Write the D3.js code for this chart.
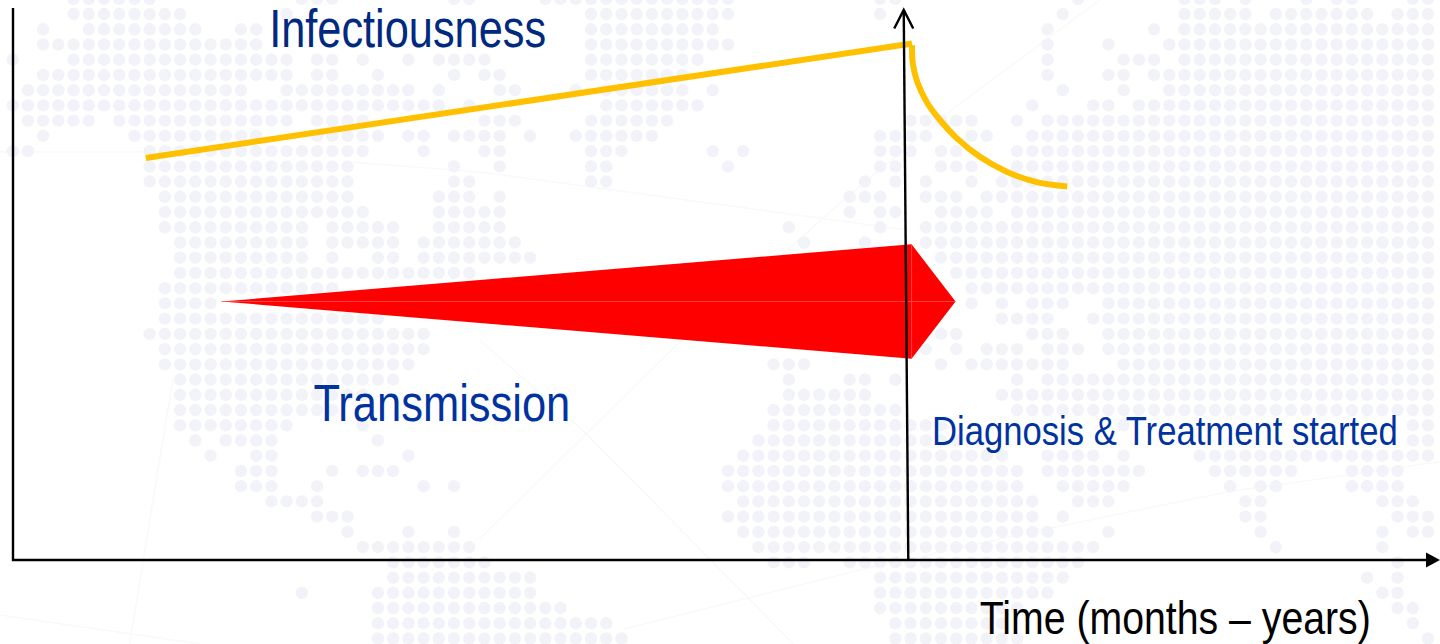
<!DOCTYPE html>
<html>
<head>
<meta charset="utf-8">
<title>Infectiousness and transmission over time</title>
<script src="https://cdn.jsdelivr.net/npm/d3@7/dist/d3.min.js"></script>
<style>
  html, body { margin: 0; padding: 0; background: #fff; overflow: hidden; }
  svg { display: block; }
  text { font-family: "Liberation Sans", Arial, sans-serif; }
</style>
</head>
<body>
<svg id="chart" width="1440" height="644"></svg>
<script>
// Infectiousness over time (percent of axis height): rising until treatment, then decaying
const riseTime = [9.3, 63.0];
const riseLevel = [73.1, 93.9];
const decayTime = [63.0, 63.05, 63.37, 64.07, 64.96, 66.13, 67.76, 69.63, 71.74, 73.88];
const decayLevel = [93.6, 90.4, 86.9, 83.1, 80.0, 76.7, 73.3, 70.6, 68.7, 67.9];

// Transmission wedge: centre line with upper and lower edges at each time
const wedgeTime = [14.6, 62.97, 66.05];
const wedgeUpper = [47.0, 57.4, 47.0];
const wedgeLower = [47.0, 36.6, 47.0];
const wedgeCentre = 47.0;

// Moment of diagnosis: the marker leans slightly from bottom to top
const diagnosisTime = [62.74, 62.42];
const diagnosisLevel = [0, 100];

// Labels
const labelTexts = ["Infectiousness", "Transmission", "Diagnosis & Treatment started", "Time (months \u2013 years)"];
const labelTime = [17.95, 21.05, 64.4, 67.75];
const labelLevel = [93.2, 25.3, 21.0, -13.4];
const labelWidths = [277, 257, 466, 391];
const labelSizes = [53, 52, 41, 46];
const labelColors = ["#00297f", "#0033a0", "#0033a0", "#000000"];

// World map backdrop: runs of filled grid columns for each grid row
const mapRows = [
  "4-9 19-21 29-30 35-47 57-58 70 77-79 81 85 87-88 92-93",
  "4-11 18 38-47 57 69 77-81 83-89 91-93",
  "2 5-12 15-16 38-46 68 75 77-93",
  "2-16 38-47 68 72 76-93",
  "0 4-18 20-21 23 26 28-31 38-45 68 73-75 77-93",
  "2-18 20-21 24 29 31-32 38-44 68 72-73 75-93",
  "1-15 18-26 28 32-33 37 39-44 46 69 73 76-93",
  "0-28 30 39-45 67 71-72 74-93",
  "1-5 7-18 20-23 31-33 38-43 59-63 66 68-93",
  "2 8-16 20-24 26-27 29-32 34 37-42 57-60 63-64 67-93",
  "0-1 9-23 27 31-32 38-40 46 48 57-59 61-62 66-93",
  "9-22 29 32 38-39 47 57-58 61-63 66-93",
  "9-22 29-30 38-39 56 58 60 63 65-93",
  "10-22 28-30 32 55-57 60-62 64-93",
  "10-23 28-32 55 57-58 61-64 66-93",
  "10-19 21-25 28-32 51 57 60-93",
  "11-19 21-25 27-33 52 56 60-93",
  "11-19 21 24-25 27-34 61-93",
  "11-30 62-93",
  "10-21 63-93",
  "10-13 63 65 67-69 72-93",
  "10-24 65-68 71-93",
  "9-27 61-62 67-69 72-93",
  "10-27 60 62 64-66 68-70 72-93",
  "10-26 50-52 61 63-69 73-93",
  "11-25 51 55-56 58 66 68-93",
  "11-23 51-56 65-93",
  "11-21 50-58 66-93",
  "11-18 23 50-61 73 92-93",
  "12 14-17 24 49-62 92-93",
  "13 16-17 26 48-65 68-71 73 78-93",
  "15-17 21 23-25 47-66 68-74 79-84 88-91",
  "15-17 20 27 29 47-66 69-73 80 82-83 88-91",
  "17-20 48-67 70-72 81-82 90-92",
  "20-22 47-67 69 81-82 91-93",
  "22 26 29 48-68 72 82 90 92-93",
  "23-30 49-71 83 90",
  "25-31 50-52 55-70 91",
  "25-34 57-69 89 91",
  "19 24-34 57-68 90-91",
  "24-36 57-66 91-92",
  "24-39 58-65 92",
  "24-40 58-66 93"
];

// Faint great-circle routes behind the map, in page coordinates as percent of the frame
const routeA = [[12.0, 58.9], [9.0, 100]];
const routeB = [[0, 95.5], [13.9, 100]];
const routeC = [[33.3, 52.8], [40.6, 67.1], [55.1, 100]];
const routeD = [[33.3, 83.7], [47.2, 53.1], [54.7, 38.8], [58.8, 30.6], [66.7, 16], [76.4, 0]];
const routeE = [[43.3, 97.7], [59.9, 88.4], [72.7, 82.1], [85.2, 76.4], [100, 71.7]];
const routeF = [[0, 23.6], [9.9, 23.6]];
const routeG = [[24.5, 25.2], [33.3, 26.7], [63.0, 35.7]];

const width = 1440, height = 644;
const svg = d3.select("#chart");

const x = d3.scaleLinear().domain([0, 100]).range([13, 1440]);
const y = d3.scaleLinear().domain([0, 100]).range([560, 10]);
const gridX = d3.scaleLinear().domain([0, 93]).range([12.7, 1428]);
const gridY = d3.scaleLinear().domain([0, 42]).range([-1.2, 638.5]);
const frameX = d3.scaleLinear().domain([0, 100]).range([0, width]);
const frameY = d3.scaleLinear().domain([0, 100]).range([0, height]);

// Backdrop routes and dots
const routeLine = d3.line().x(d => frameX(d[0])).y(d => frameY(d[1]));
svg.append("g").selectAll("path")
  .data([routeA, routeB, routeC, routeD, routeE, routeF, routeG])
  .join("path")
  .attr("d", routeLine)
  .attr("fill", "none")
  .attr("stroke", "#f9f9f9")
  .attr("stroke-width", 1.5);

const mapDots = mapRows.flatMap((row, r) =>
  row.split(" ").flatMap(run => {
    const [a, b] = run.split("-").map(Number);
    return d3.range(a, (b === undefined ? a : b) + 1).map(c => ({ c, r }));
  })
);
svg.append("g").selectAll("circle")
  .data(mapDots)
  .join("circle")
  .attr("cx", d => gridX(d.c))
  .attr("cy", d => gridY(d.r))
  .attr("r", 6.2)
  .attr("fill", "#f2f2f9");

// Transmission wedge with its pale seams
const wedge = wedgeTime.map((t, i) => ({ t, hi: wedgeUpper[i], lo: wedgeLower[i] }));
svg.append("path")
  .datum(wedge)
  .attr("d", d3.area().x(d => x(d.t)).y0(d => y(d.lo)).y1(d => y(d.hi)))
  .attr("fill", "#ff0000");
svg.append("line")
  .attr("x1", x(wedgeTime[0])).attr("x2", x(wedgeTime[2]))
  .attr("y1", y(wedgeCentre)).attr("y2", y(wedgeCentre))
  .attr("stroke", "#ff5050").attr("stroke-width", 0.8);
svg.append("line")
  .attr("x1", x(wedgeTime[1])).attr("x2", x(wedgeTime[1]))
  .attr("y1", y(wedgeUpper[1])).attr("y2", y(wedgeLower[1]))
  .attr("stroke", "#ff5050").attr("stroke-width", 0.8);

// Infectiousness curve
const toPoints = (ts, vs) => ts.map((t, i) => [x(t), y(vs[i])]);
svg.append("path")
  .attr("d", d3.line()(toPoints(riseTime, riseLevel)))
  .attr("fill", "none")
  .attr("stroke", "#ffc000")
  .attr("stroke-width", 6);
svg.append("path")
  .attr("d", d3.line().curve(d3.curveCatmullRom)(toPoints(decayTime, decayLevel)))
  .attr("fill", "none")
  .attr("stroke", "#ffc000")
  .attr("stroke-width", 6);

// Axes: left and bottom frame lines, diagnosis marker and arrowheads
const axisPath = d3.path();
axisPath.moveTo(x(0), y(100) - 2);
axisPath.lineTo(x(0), y(0));
axisPath.lineTo(1430, y(0));
svg.append("path")
  .attr("d", axisPath.toString())
  .attr("fill", "none")
  .attr("stroke", "#000")
  .attr("stroke-width", 2.4);

svg.append("path")
  .attr("d", d3.line()([[1426, y(0) - 7.5], [1440, y(0)], [1426, y(0) + 7.5]]))
  .attr("fill", "#000");

const diagnosisPoints = toPoints(diagnosisTime, diagnosisLevel);
svg.append("path")
  .attr("d", d3.line()(diagnosisPoints))
  .attr("fill", "none")
  .attr("stroke", "#000")
  .attr("stroke-width", 2.4);

const tip = diagnosisPoints[1];
svg.append("path")
  .attr("d", d3.line()([[tip[0] - 9.5, tip[1] + 18.5], tip, [tip[0] + 9.5, tip[1] + 18.5]]))
  .attr("fill", "none")
  .attr("stroke", "#000")
  .attr("stroke-width", 2.4);

// Text labels, narrowed horizontally to the condensed look of the slide type
svg.append("g").selectAll("text")
  .data(labelTexts)
  .join("text")
  .attr("font-size", (d, i) => labelSizes[i])
  .attr("fill", (d, i) => labelColors[i])
  .text(d => d)
  .attr("transform", function (d, i) {
    const squeeze = labelWidths[i] / this.getComputedTextLength();
    return `translate(${x(labelTime[i])},${y(labelLevel[i])}) scale(${squeeze},1)`;
  });
</script>
</body>
</html>
